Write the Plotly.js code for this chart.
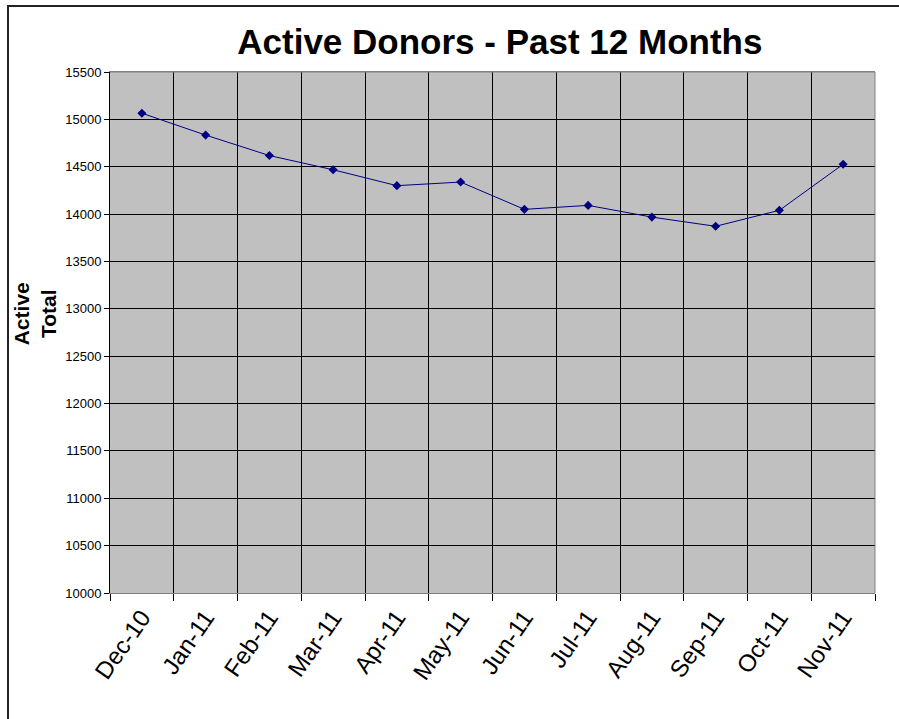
<!DOCTYPE html>
<html>
<head>
<meta charset="utf-8">
<script src="https://cdn.plot.ly/plotly-3.0.1.min.js"></script>
<style>
  body { margin: 0; background: #fff; }
  #frame { position: absolute; left: 7px; top: 5px; width: 910px; height: 730px;
           border-left: 2px solid #222; border-top: 2px solid #222; }
  #chart { position: absolute; left: 0; top: 0; }
</style>
</head>
<body>
<div id="frame"></div>
<div id="chart"></div>
<script>
const months = ['Dec-10', 'Jan-11', 'Feb-11', 'Mar-11', 'Apr-11', 'May-11',
                'Jun-11', 'Jul-11', 'Aug-11', 'Sep-11', 'Oct-11', 'Nov-11'];
const activeTotal = [15065, 14834, 14618, 14468, 14300, 14338,
                     14050, 14092, 13968, 13871, 14040, 14526];
const yTitle = '<b>Active<br>Total</b>';

const trace = {
  x: months,
  y: activeTotal,
  mode: 'lines+markers',
  line: { color: '#000080', width: 1 },
  marker: { symbol: 'diamond', size: 7, color: '#000080' },
  hoverinfo: 'x+y'
};

const layout = {
  width: 899,
  height: 719,
  paper_bgcolor: 'rgba(0,0,0,0)',
  plot_bgcolor: '#c0c0c0',
  showlegend: false,
  margin: { l: 110, r: 24, t: 72, b: 126 },
  font: { family: 'Liberation Sans, Arial, sans-serif', color: '#000' },
  title: {
    text: '<b>Active Donors - Past 12 Months</b>',
    font: { size: 35, color: '#000' },
    x: 0.556, xanchor: 'center',
    y: 0.942, yanchor: 'middle'
  },
  xaxis: {
    type: 'category',
    range: [-0.5, 11.5],
    tickson: 'boundaries',
    ticks: 'outside',
    ticklen: 7,
    tickcolor: '#000',
    tickangle: -55,
    tickfont: { size: 24 },
    showgrid: true,
    gridcolor: '#000',
    gridwidth: 1,
    showline: true,
    linecolor: '#808080',
    linewidth: 1,
    mirror: true,
    zeroline: false
  },
  yaxis: {
    range: [10000, 15500],
    dtick: 500,
    tickformat: 'd',
    ticks: 'outside',
    ticklen: 5,
    tickcolor: '#000',
    tickfont: { size: 13 },
    showgrid: true,
    gridcolor: '#000',
    gridwidth: 1,
    showline: true,
    linecolor: '#000',
    mirror: false,
    zeroline: false
  },
  annotations: [
    { text: yTitle, xref: 'paper', yref: 'paper', x: -0.098, y: 0.535,
      xanchor: 'center', yanchor: 'middle', align: 'center', textangle: -90,
      showarrow: false, font: { size: 21 } }
  ],
  shapes: [
    { type: 'line', xref: 'paper', yref: 'paper', x0: 1, x1: 1, y0: 0, y1: 1,
      line: { color: '#808080', width: 1 } },
    { type: 'line', xref: 'paper', yref: 'paper', x0: 0, x1: 1, y0: 1, y1: 1,
      line: { color: '#808080', width: 1 } }
  ]
};

Plotly.newPlot('chart', [trace], layout, { displayModeBar: false, staticPlot: true });
</script>
</body>
</html>
